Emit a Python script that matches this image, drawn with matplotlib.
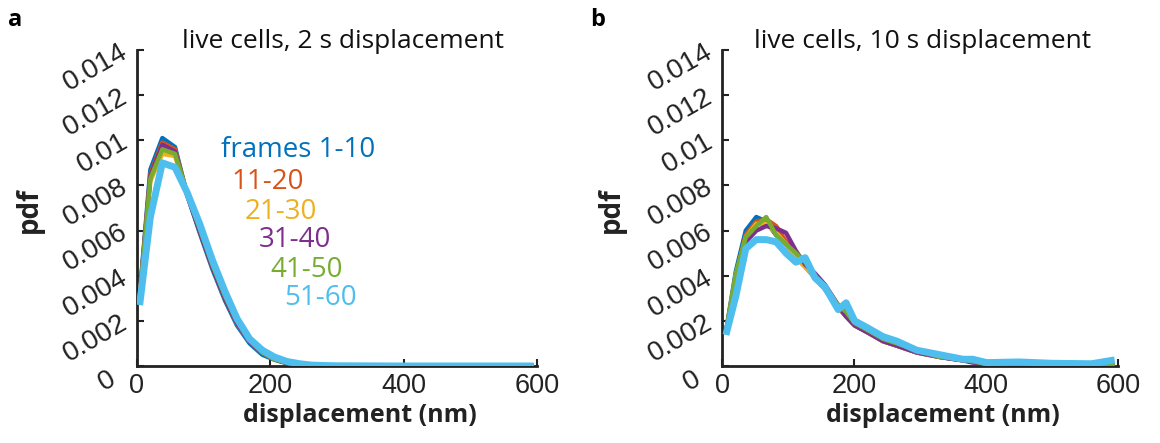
import matplotlib
matplotlib.use("Agg")
import matplotlib.pyplot as plt
import matplotlib.transforms as mtransforms

# ---------------- data ----------------
series_labels = ["frames 1-10", "11-20", "21-30", "31-40", "41-50", "51-60"]
colors = ["#0072BD", "#D95319", "#EDB120", "#7E2F8E", "#77AC30", "#4DBEEE"]

# panel a: 2 s displacement
xa = [4, 20, 38, 57, 75, 94, 113, 132, 150, 169, 188, 206, 225, 244, 262, 281, 300, 400, 500, 595]
a_1_10 = [0.0031, 0.0087, 0.0101, 0.0097, 0.0076, 0.0059, 0.0043, 0.0029, 0.0018, 0.0010, 0.0005, 0.00028, 0.00012, 0.00005, 0.00002, 0.00001, 0.0, 0.0, 0.0, 0.0]
a_11_20 = [0.0030, 0.0085, 0.0099, 0.0096, 0.0076, 0.0060, 0.0044, 0.0030, 0.0019, 0.0011, 0.0006, 0.0003, 0.00013, 0.00006, 0.00002, 0.00001, 0.0, 0.0, 0.0, 0.0]
a_21_30 = [0.0029, 0.0082, 0.0094, 0.0093, 0.0077, 0.0061, 0.0045, 0.0031, 0.0019, 0.0011, 0.0006, 0.0003, 0.00014, 0.00006, 0.00002, 0.00001, 0.0, 0.0, 0.0, 0.0]
a_31_40 = [0.0030, 0.0084, 0.0098, 0.0095, 0.0076, 0.0060, 0.0044, 0.0030, 0.0019, 0.0011, 0.0006, 0.0003, 0.00013, 0.00006, 0.00002, 0.00001, 0.0, 0.0, 0.0, 0.0]
a_41_50 = [0.0030, 0.0083, 0.0096, 0.0094, 0.0077, 0.0061, 0.0045, 0.0031, 0.0020, 0.0012, 0.0006, 0.0003, 0.00015, 0.00006, 0.00002, 0.00001, 0.0, 0.0, 0.0, 0.0]
a_51_60 = [0.0027, 0.0066, 0.0090, 0.0088, 0.0077, 0.0063, 0.0047, 0.0033, 0.0021, 0.0012, 0.0007, 0.0004, 0.0002, 0.0001, 0.00004, 0.00002, 0.00001, 0.0, 0.0, 0.0]

# panel b: 10 s displacement
xb = [6, 21, 36, 52, 67, 82, 97, 112, 126, 141, 156, 176, 188, 201, 220, 244, 265, 295, 330, 365, 380, 401, 450, 500, 560, 595]
b_1_10 = [0.0015, 0.0042, 0.0060, 0.0066, 0.0064, 0.0058, 0.0054, 0.0048, 0.0044, 0.0039, 0.0034, 0.0026, 0.0022, 0.0018, 0.0015, 0.0011, 0.0009, 0.0006, 0.0004, 0.00025, 0.0002, 0.00012, 0.00008, 0.00005, 0.00003, 0.00002]
b_11_20 = [0.0015, 0.0040, 0.0058, 0.0064, 0.0065, 0.0062, 0.0055, 0.0049, 0.0045, 0.0040, 0.0035, 0.0026, 0.0022, 0.0018, 0.0015, 0.0011, 0.0009, 0.0006, 0.0004, 0.00025, 0.0002, 0.0001, 0.00008, 0.00005, 0.00004, 0.00003]
b_21_30 = [0.0014, 0.0040, 0.0057, 0.0063, 0.0063, 0.0059, 0.0054, 0.0048, 0.0044, 0.0039, 0.0034, 0.0026, 0.0023, 0.0019, 0.0015, 0.0011, 0.0009, 0.0006, 0.0004, 0.0003, 0.0002, 0.0001, 0.0001, 0.00006, 0.00004, 0.00003]
b_31_40 = [0.0015, 0.0039, 0.0055, 0.0060, 0.0062, 0.0061, 0.0059, 0.0051, 0.0045, 0.0041, 0.0036, 0.0027, 0.0022, 0.0018, 0.0015, 0.0011, 0.0009, 0.0006, 0.0004, 0.00025, 0.00015, 0.0001, 0.00005, 0.00002, 0.00002, 0.00001]
b_41_50 = [0.0015, 0.0041, 0.0057, 0.0062, 0.0066, 0.0058, 0.0054, 0.0050, 0.0046, 0.0040, 0.0035, 0.0027, 0.0024, 0.0019, 0.0016, 0.0012, 0.0010, 0.0007, 0.0004, 0.0003, 0.0002, 0.0001, 0.0001, 0.00006, 0.00003, 0.00001]
b_51_60 = [0.00138, 0.0031, 0.0052, 0.0056, 0.0056, 0.0055, 0.0050, 0.0046, 0.0048, 0.0039, 0.0035, 0.0025, 0.0028, 0.0020, 0.0017, 0.0013, 0.0011, 0.0007, 0.0005, 0.0003, 0.0003, 0.00015, 0.00018, 0.00012, 0.0001, 0.00027]

series_a = [a_1_10, a_11_20, a_21_30, a_31_40, a_41_50, a_51_60]
series_b = [b_1_10, b_11_20, b_21_30, b_31_40, b_41_50, b_51_60]

titles = ["live cells, 2 s displacement", "live cells, 10 s displacement"]
panel_letters = ["a", "b"]
xticks = [0, 200, 400, 600]
yticks = [0, 0.002, 0.004, 0.006, 0.008, 0.01, 0.012, 0.014]
ytick_labels = ["0", "0.002", "0.004", "0.006", "0.008", "0.01", "0.012", "0.014"]

# ---------------- figure ----------------
W, H = 1160, 443
fig = plt.figure(figsize=(W / 100, H / 100), dpi=100)
label_font = "Open Sans"
tick_font = "Liberation Sans"
ink = "#222222"

ax_px = [(137, 537), (722, 1118)]
ylabel_x = [29, 611]
panel_letter_x = [15, 598]

axes = [fig.add_axes([l / W, 1 - 366 / H, (r - l) / W, (366 - 50) / H]) for l, r in ax_px]

for i, ax in enumerate(axes):
    xs = xa if i == 0 else xb
    data = series_a if i == 0 else series_b
    for j, (ys, c) in enumerate(zip(data, colors)):
        lw = 5.0 if j == 5 else 3.2
        ax.plot(xs, ys, color=c, lw=lw, solid_joinstyle="round",
                solid_capstyle="butt", zorder=2 + j)
    ax.set_xlim(0, 600)
    ax.set_ylim(0, 0.014)
    ax.set_xticks(xticks)
    ax.set_yticks(yticks)
    ax.tick_params(axis="both", direction="in", length=5, width=1.5, colors=ink)
    ax.tick_params(axis="x", pad=5)
    ax.tick_params(axis="y", pad=8)
    ax.set_xticklabels([str(t) for t in xticks], fontsize=19.5, family=tick_font, color=ink)
    ax.set_yticklabels(ytick_labels, fontsize=20, family=tick_font, color=ink,
                       rotation=30, ha="right", va="center", rotation_mode="anchor")
    # the "0" label sits lower-left in the reference
    zero_lab = ax.get_yticklabels()[0]
    zero_lab.set_transform(zero_lab.get_transform() +
                           mtransforms.ScaledTranslation(-12 / 100, -11 / 100, fig.dpi_scale_trans))
    for s in ["top", "right"]:
        ax.spines[s].set_visible(False)
    for s in ["left", "bottom"]:
        ax.spines[s].set_linewidth(2.0)
        ax.spines[s].set_color(ink)
    l, r = ax_px[i]
    fig.text(((l + r) / 2 + 23) / W, 1 - 416 / H, "displacement (nm)", fontsize=18,
             fontweight="bold", family=label_font, color=ink, ha="center", va="center")
    fig.text(ylabel_x[i] / W, 1 - 210 / H, "pdf", rotation=90, fontsize=20,
             fontweight="bold", family=label_font, color=ink, ha="center", va="center")
    fig.text(((l + r) / 2 + (3 if i == 0 else 0) + 3) / W, 1 - 42 / H, titles[i], ha="center",
             va="center", fontsize=19, family=label_font, color="#111111")
    fig.text(panel_letter_x[i] / W, 1 - 20 / H, panel_letters[i], fontsize=17,
             fontweight="bold", family=label_font, ha="center", va="center")

# legend-like colored labels in panel a
label_pos = [(298, 150), (268, 182), (281, 212), (295, 240), (307, 270), (320, 298)]
for lab, c, (px, py) in zip(series_labels, colors, label_pos):
    fig.text(px / W, 1 - py / H, lab, color=c, fontsize=20, family=label_font,
             ha="center", va="center")

fig.savefig("out.png", dpi=100)
